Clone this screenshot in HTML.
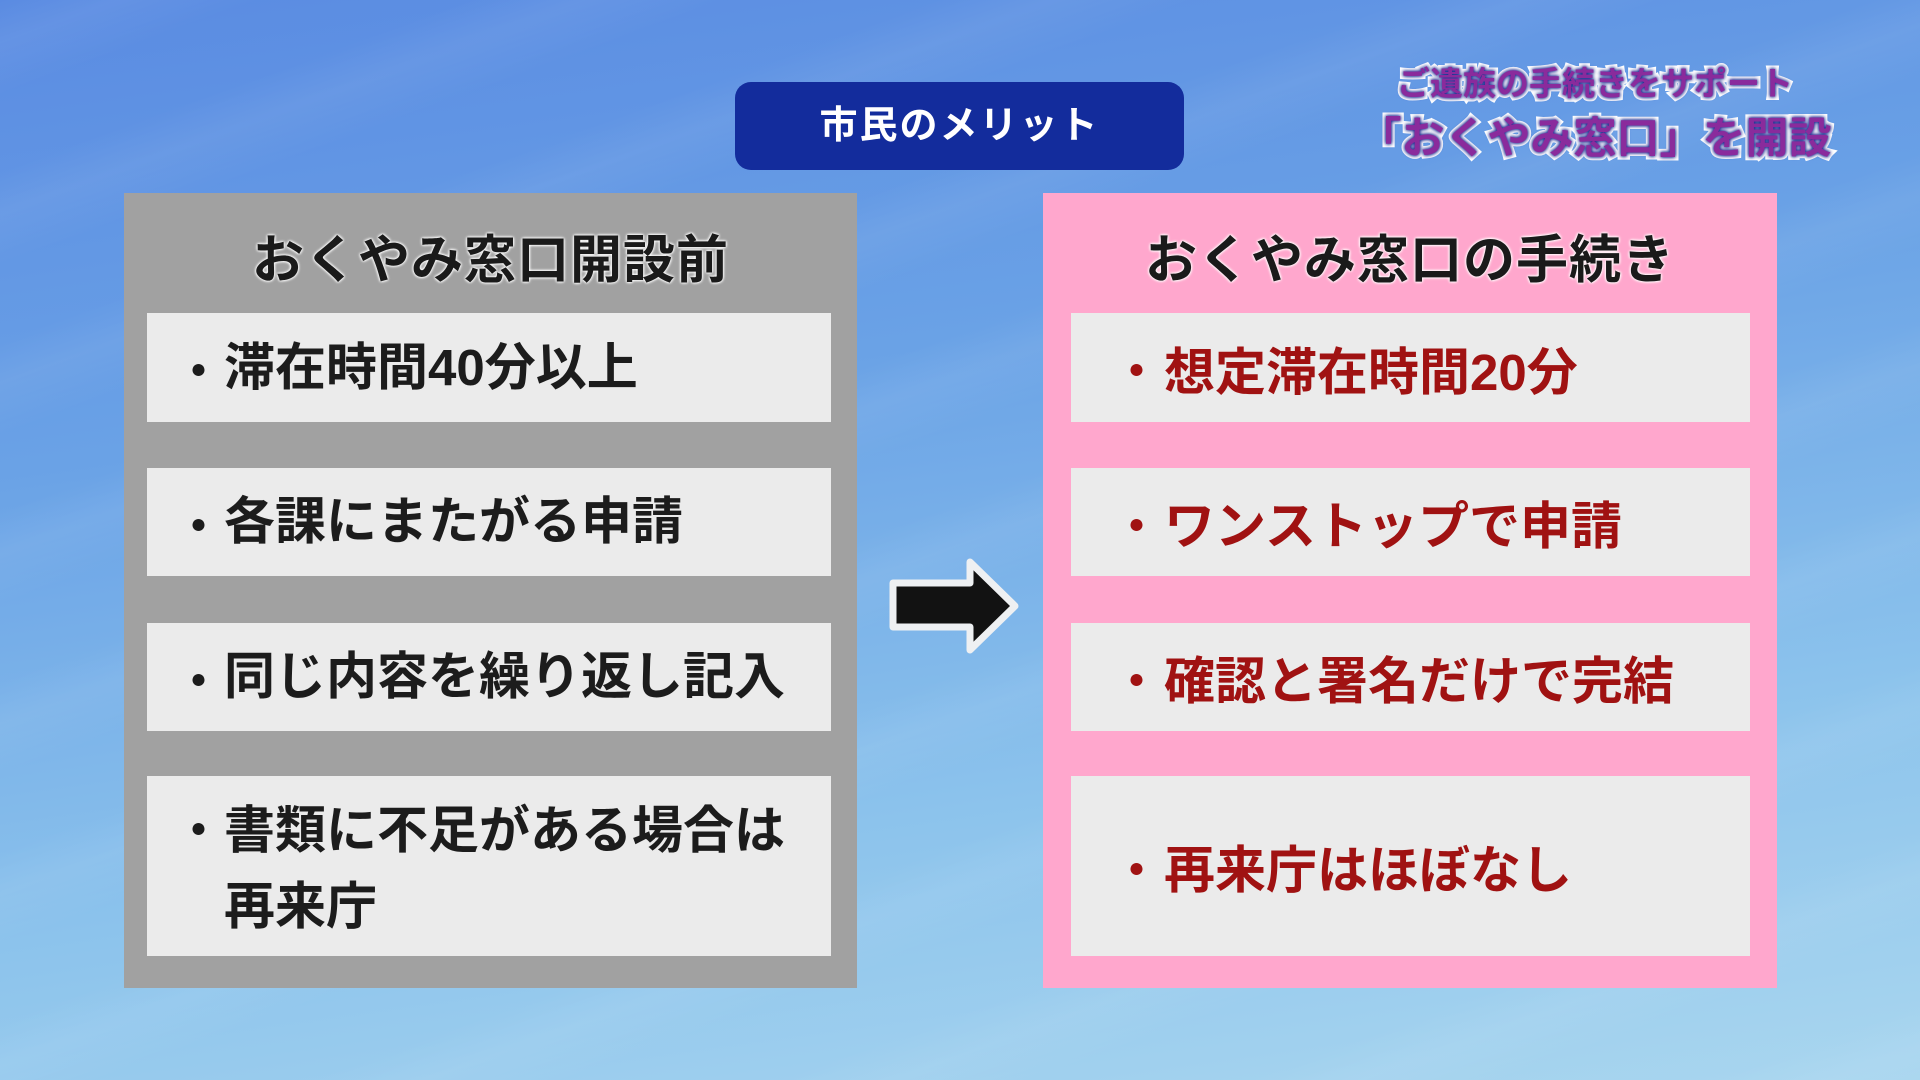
<!DOCTYPE html>
<html><head><meta charset="utf-8"><style>
*{margin:0;padding:0;box-sizing:border-box}
body{width:1920px;height:1080px;overflow:hidden;position:relative;font-family:"Liberation Sans","Noto Sans CJK JP",sans-serif;font-weight:bold;
background:linear-gradient(172deg,#5a8be2 0%,#6aa2e6 35%,#8cc3ec 70%,#a9d6ef 100%);}
.streak{position:absolute;inset:0;background:repeating-linear-gradient(160deg,rgba(255,255,255,0) 0px,rgba(255,255,255,0.06) 40px,rgba(255,255,255,0) 90px,rgba(255,255,255,0) 160px);}
.pill{position:absolute;left:735px;top:82px;width:449px;height:88px;background:#132c9c;border-radius:16px;color:#fff;font-size:38px;text-align:center;line-height:88px;letter-spacing:2px}
.panel{position:absolute;top:193px;height:795px;}
.left{left:124px;width:733px;background:#a1a1a1}
.right{left:1043px;width:734px;background:#ffa7cd}
.head{position:absolute;top:218px;font-size:52px;color:#1a1a1a;text-align:center;text-shadow:0 0 3px #fff,0 0 3px #fff,0 0 2px #fff;letter-spacing:1px}
.box{position:absolute;background:#ebebeb;font-size:51px;display:flex;align-items:center;white-space:nowrap;letter-spacing:0}
.lb{left:147px;width:684px;color:#1c1c1c}
.rb{left:1071px;width:679px;color:#a01212}
.box span.b{position:absolute;font-size:47px}
.lb span.b{left:28px}.rb span.b{left:42px}
.lb .t{margin-left:77px;line-height:76px}.rb .t{margin-left:93px}
.tt{position:absolute;color:#8a2b9c;text-align:center;white-space:nowrap;width:600px;left:1295px;paint-order:stroke fill;-webkit-text-stroke:7px #fff;text-shadow:0 0 4px #1a2a90,0 0 3px #1a2a90;}
</style></head><body>
<div class="streak"></div>
<div class="pill">市民のメリット</div>
<div class="tt" style="top:57px;font-size:33px">ご遺族の手続きをサポート</div>
<div class="tt" style="top:104px;font-size:43px">「おくやみ窓口」を開設</div>
<div class="panel left"></div><div class="panel right"></div>
<div class="head" style="left:124px;width:733px">おくやみ窓口開設前</div>
<div class="head" style="left:1043px;width:734px">おくやみ窓口の手続き</div>

<div class="box lb" style="top:313px;height:109px"><span class="b">・</span><span class="t">滞在時間40分以上</span></div>
<div class="box lb" style="top:468px;height:108px"><span class="b">・</span><span class="t">各課にまたがる申請</span></div>
<div class="box lb" style="top:623px;height:108px"><span class="b">・</span><span class="t">同じ内容を繰り返し記入</span></div>
<div class="box lb" style="top:776px;height:180px;align-items:flex-start;padding-top:17px"><span class="b" style="top:17px;line-height:76px">・</span><span class="t">書類に不足がある場合は<br>再来庁</span></div>

<div class="box rb" style="top:313px;height:109px"><span class="b">・</span><span class="t">想定滞在時間20分</span></div>
<div class="box rb" style="top:468px;height:108px"><span class="b">・</span><span class="t">ワンストップで申請</span></div>
<div class="box rb" style="top:623px;height:108px"><span class="b">・</span><span class="t">確認と署名だけで完結</span></div>
<div class="box rb" style="top:776px;height:180px"><span class="b">・</span><span class="t">再来庁はほぼなし</span></div>

<svg style="position:absolute;left:0;top:0" width="1920" height="1080">
<polygon points="893,583 970,583 970,562 1015,606 970,650 970,627 893,627" fill="#121212" stroke="#eef0f2" stroke-width="7" stroke-linejoin="round"/>
</svg>
</body></html>
